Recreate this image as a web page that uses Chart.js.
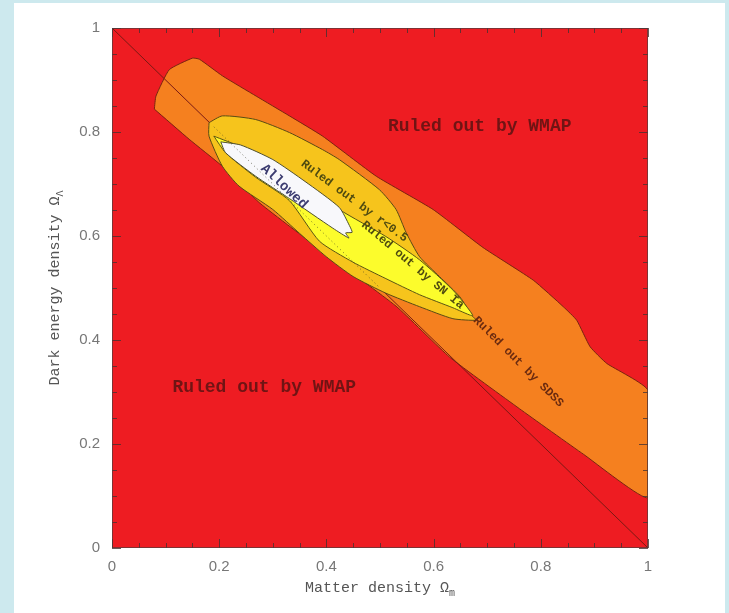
<!DOCTYPE html>
<html>
<head>
<meta charset="utf-8">
<script src="https://cdn.jsdelivr.net/npm/chart.js@4.4.1/dist/chart.umd.min.js"></script>
<style>
  body { margin: 0; background: #cde9ee; }
  canvas { display: block; }
</style>
</head>
<body>
<canvas id="chart" width="729" height="613"></canvas>
<script>
// axis ticks
var tickValues = [0, 0.2, 0.4, 0.6, 0.8, 1];
var tickLabels = ["0", "0.2", "0.4", "0.6", "0.8", "1"];

// region outlines (Omega_m, Omega_Lambda)
var wmapX = [0, 1, 1, 0, 0];
var wmapY = [0, 0, 1, 1, 0];

var sdssX = [0.079, 0.082, 0.107, 0.15, 0.163, 0.206, 0.269, 0.331, 0.393, 0.493, 0.599, 0.692, 0.786, 0.842, 0.867, 0.892, 0.923, 1.0,
             1.0, 0.88, 0.76, 0.63, 0.53, 0.40, 0.276, 0.206, 0.144, 0.079];
var sdssY = [0.844, 0.869, 0.92, 0.942, 0.94, 0.908, 0.869, 0.831, 0.792, 0.715, 0.651, 0.578, 0.515, 0.464, 0.438, 0.387, 0.355, 0.303,
             0.097, 0.18, 0.268, 0.367, 0.465, 0.565, 0.663, 0.734, 0.786, 0.844];

var ageX = [0.181, 0.206, 0.268, 0.331, 0.393, 0.424, 0.499, 0.530, 0.549, 0.574, 0.611, 0.649, 0.673, 0.680,
            0.636, 0.574, 0.511, 0.45, 0.40, 0.35, 0.30, 0.237, 0.206, 0.181, 0.181];
var ageY = [0.818, 0.831, 0.824, 0.799, 0.766, 0.747, 0.689, 0.651, 0.606, 0.560, 0.522, 0.483, 0.445, 0.438,
            0.441, 0.464, 0.490, 0.522, 0.56, 0.605, 0.651, 0.696, 0.734, 0.792, 0.818];

var snX = [0.19, 0.24, 0.30, 0.36, 0.424, 0.511, 0.574, 0.636, 0.673, 0.636, 0.574, 0.511, 0.449, 0.387, 0.331, 0.268, 0.212, 0.19];
var snY = [0.792, 0.772, 0.744, 0.702, 0.651, 0.599, 0.554, 0.496, 0.447, 0.462, 0.487, 0.518, 0.550, 0.590, 0.668, 0.713, 0.760, 0.792];

var allowedX = [0.203, 0.24, 0.30, 0.36, 0.424, 0.443, 0.448, 0.436, 0.442, 0.412, 0.331, 0.268, 0.212, 0.203];
var allowedY = [0.781, 0.775, 0.747, 0.705, 0.655, 0.620, 0.607, 0.606, 0.596, 0.615, 0.672, 0.715, 0.760, 0.781];

// flat universe line
var flatX = [0, 1];
var flatY = [1, 0];

function pts(xs, ys) {
  return xs.map(function (x, i) { return { x: x, y: ys[i] }; });
}

function region(data, fillColor, lineColor, order, tension) {
  return {
    data: data,
    backgroundColor: fillColor,
    borderColor: lineColor,
    borderWidth: 1,
    fill: "shape",
    pointRadius: 0,
    tension: tension,
    order: order
  };
}

// background + white panel, inward ticks, labels
var decor = {
  id: "decor",
  beforeDraw: function (chart) {
    var ctx = chart.ctx;
    ctx.save();
    ctx.fillStyle = "#cde9ee";
    ctx.fillRect(0, 0, chart.width, chart.height);
    ctx.fillStyle = "#ffffff";
    ctx.fillRect(14, 3, 711, 610);
    ctx.restore();
  },
  afterDatasetsDraw: function (chart) {
    var ctx = chart.ctx;
    var xs = chart.scales.x, ys = chart.scales.y;
    var a = chart.chartArea;
    ctx.save();
    // inward ticks on all four sides
    ctx.strokeStyle = "rgba(70,50,50,0.8)";
    ctx.lineWidth = 1;
    for (var i = 0; i <= 20; i++) {
      var v = i * 0.05;
      var len = (i % 4 === 0) ? 9 : 5;
      var px = Math.round(xs.getPixelForValue(v)) + 0.5;
      var py = Math.round(ys.getPixelForValue(v)) + 0.5;
      ctx.beginPath();
      ctx.moveTo(px, a.bottom); ctx.lineTo(px, a.bottom - len);
      ctx.moveTo(px, a.top); ctx.lineTo(px, a.top + len);
      ctx.moveTo(a.left, py); ctx.lineTo(a.left + len, py);
      ctx.moveTo(a.right, py); ctx.lineTo(a.right - len, py);
      ctx.stroke();
    }
    ctx.strokeStyle = "rgba(80,60,60,0.7)";
    ctx.strokeRect(a.left + 0.5, a.top + 0.5, a.right - a.left - 1, a.bottom - a.top - 1);

    function label(text, x, y, deg, font, color) {
      ctx.save();
      ctx.translate(xs.getPixelForValue(x), ys.getPixelForValue(y));
      ctx.rotate(deg * Math.PI / 180);
      ctx.font = font;
      ctx.fillStyle = color;
      ctx.textAlign = "center";
      ctx.textBaseline = "middle";
      ctx.fillText(text, 0, 0);
      ctx.restore();
    }
    var mono = "'Liberation Mono', 'DejaVu Sans Mono', monospace";
    label("Ruled out by WMAP", 0.686, 0.811, 0, "bold 18px " + mono, "#701414");
    label("Ruled out by WMAP", 0.284, 0.309, 0, "bold 18px " + mono, "#701414");
    label("Allowed", 0.321, 0.695, 43, "bold 14px " + mono, "#3c3c70");
    label("Ruled out by r<0.5", 0.452, 0.667, 36.5, "bold 12px " + mono, "#4e4a10");
    label("Ruled out by SN Ia", 0.561, 0.544, 40, "bold 12px " + mono, "#4e4a10");
    label("Ruled out by SDSS", 0.758, 0.358, 45, "bold 12px " + mono, "#6a2a10");

    // axis titles with subscripts
    ctx.fillStyle = "#555";
    ctx.textBaseline = "middle";
    ctx.font = "15px " + mono;
    var t = "Matter density \u03a9";
    var w = ctx.measureText(t).width;
    ctx.font = "10px " + mono;
    var ws = ctx.measureText("m").width;
    var cx = (a.left + a.right) / 2 - (w + ws) / 2;
    ctx.font = "15px " + mono;
    ctx.textAlign = "left";
    ctx.fillText(t, cx, 588);
    ctx.font = "10px " + mono;
    ctx.fillText("m", cx + w, 593);

    ctx.save();
    ctx.translate(55, (a.top + a.bottom) / 2);
    ctx.rotate(-Math.PI / 2);
    ctx.font = "15px " + mono;
    t = "Dark energy density \u03a9";
    w = ctx.measureText(t).width;
    ctx.font = "10px " + mono;
    ws = ctx.measureText("\u039b").width;
    cx = -(w + ws) / 2;
    ctx.font = "15px " + mono;
    ctx.fillText(t, cx, 0);
    ctx.font = "10px " + mono;
    ctx.fillText("\u039b", cx + w, 5);
    ctx.restore();

    ctx.restore();
  }
};

function tickText(v) {
  var i = tickValues.indexOf(v);
  return i >= 0 ? tickLabels[i] : "";
}

new Chart(document.getElementById("chart"), {
  type: "line",
  data: {
    datasets: [
      { data: pts([0.19, 0.5], [0.81, 0.5]), borderColor: "rgba(60,60,40,0.7)", borderWidth: 1,
        borderDash: [1, 3], pointRadius: 0, fill: false, order: 0 },
      region(pts(allowedX, allowedY), "#f8f8fb", "#505030", 1, 0.2),
      region(pts(snX, snY), "#fcfc2c", "#5a5414", 2, 0.2),
      region(pts(ageX, ageY), "#f6c41c", "#5a4a14", 3, 0.2),
      { data: pts(flatX, flatY), borderColor: "#7a1a14", borderWidth: 1, pointRadius: 0, fill: false, order: 4 },
      region(pts(sdssX, sdssY), "#f5801f", "#7a2410", 5, 0.15),
      region(pts(wmapX, wmapY), "#ee1c22", "#ee1c22", 6, 0)
    ]
  },
  options: {
    responsive: false,
    animation: false,
    events: [],
    layout: { padding: { left: 14, right: 81, top: 28, bottom: 0 } },
    plugins: { legend: { display: false }, tooltip: { enabled: false } },
    scales: {
      x: {
        type: "linear", min: 0, max: 1,
        afterFit: function (s) { s.height = 65; },
        afterBuildTicks: function (s) { s.ticks = tickValues.map(function (v) { return { value: v }; }); },
        grid: { display: false, drawTicks: false },
        border: { display: false },
        ticks: { padding: 10, color: "#777", callback: tickText,
                 font: { family: "'Liberation Sans', Arial, sans-serif", size: 15 } }
      },
      y: {
        type: "linear", min: 0, max: 1,
        afterFit: function (s) { s.width = 98; },
        afterBuildTicks: function (s) { s.ticks = tickValues.map(function (v) { return { value: v }; }); },
        grid: { display: false, drawTicks: false },
        border: { display: false },
        ticks: { padding: 12, color: "#777", callback: tickText,
                 font: { family: "'Liberation Sans', Arial, sans-serif", size: 15 } }
      }
    }
  },
  plugins: [decor]
});
</script>
</body>
</html>
